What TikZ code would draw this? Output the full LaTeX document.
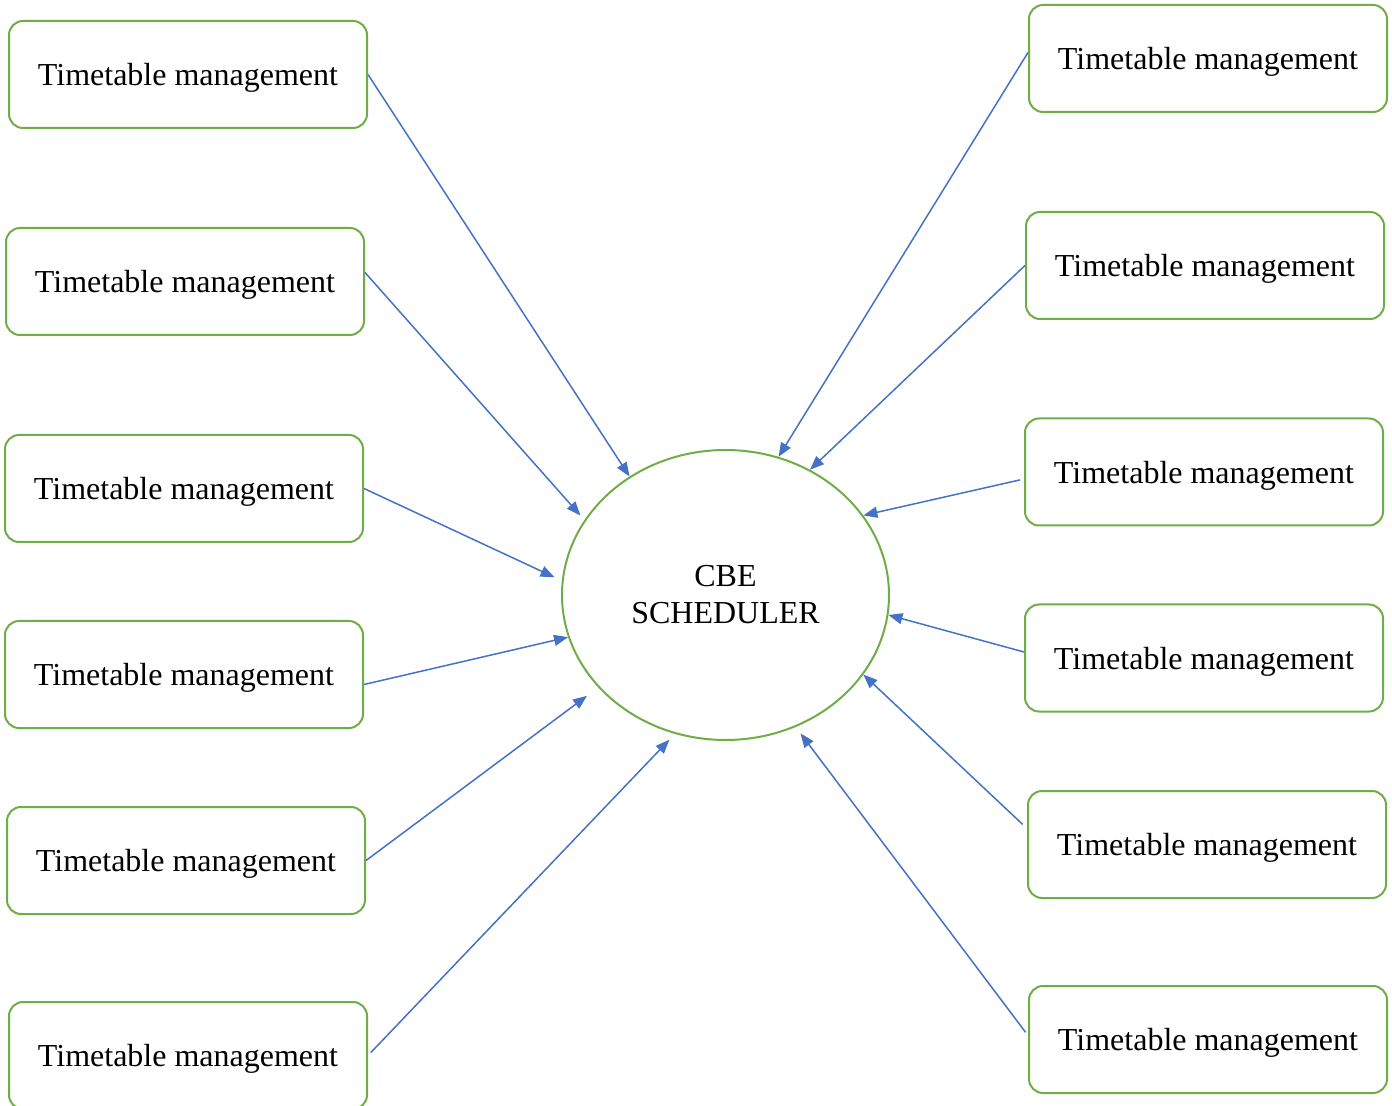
\documentclass[tikz,border=0pt]{standalone}
\usepackage{fontspec}
\setmainfont{Liberation Serif}
\usetikzlibrary{arrows.meta,shapes.geometric}
\definecolor{boxgreen}{HTML}{70AD47}
\definecolor{arrowblue}{HTML}{4472C4}

\begin{document}
\begin{tikzpicture}[
    x=0.5pt,y=-0.5pt,
    box/.style={draw=boxgreen,line width=1pt,rounded corners=7pt,fill=white,minimum width=179pt,minimum height=53.5pt,inner sep=0pt,text depth=0pt,font=\fontsize{16}{18.5}\selectfont},
    hub/.style={ellipse,draw=boxgreen,line width=1pt,minimum width=163.5pt,minimum height=145pt,inner sep=0pt,align=center,font=\fontsize{16}{18.5}\selectfont},
    arrow/.style={-{Triangle[length=7pt,width=5.5pt]},line width=0.75pt,draw=arrowblue}
  ]
    \useasboundingbox (0,0) rectangle (1392,1106);
    \node[hub] (sched) at (725.5,595) {CBE\\SCHEDULER};
    % left column
    \node[box] (left1) at (188,74.5) {Timetable management};
    \node[box] (left2) at (185,281.5) {Timetable management};
    \node[box] (left3) at (184,488.5) {Timetable management};
    \node[box] (left4) at (184,674.5) {Timetable management};
    \node[box] (left5) at (186,860.5) {Timetable management};
    \node[box] (left6) at (188,1055.5) {Timetable management};
    % right column
    \node[box] (right1) at (1208,58.5) {Timetable management};
    \node[box] (right2) at (1205,265.5) {Timetable management};
    \node[box] (right3) at (1204,472) {Timetable management};
    \node[box] (right4) at (1204,658) {Timetable management};
    \node[box] (right5) at (1207,844.5) {Timetable management};
    \node[box] (right6) at (1208,1039.5) {Timetable management};
    \draw[arrow] (left1.east) -- (sched.129);
    \draw[arrow,shorten >=3pt] ([yshift=4.5pt]left2.east) -- (sched.152);
    \draw[arrow,shorten >=4pt] (left3.east) -- (sched.175);
    \draw[arrow] ([yshift=-5pt]left4.east) -- (sched.195);
    \draw[arrow,shorten >=7pt] (left5.east) -- (sched.216);
    \draw[arrow,shorten <=2pt,shorten >=4pt] (left6.east) -- (sched.250);
    \draw[arrow] ([yshift=3pt]right1.west) -- (sched.69);
    \draw[arrow] (right2.west) -- (sched.56);
    \draw[arrow,shorten <=2pt] ([yshift=-3.5pt]right3.west) -- (sched.30);
    \draw[arrow] ([yshift=3pt]right4.west) -- (sched.353);
    \draw[arrow,shorten <=3pt] ([yshift=8pt]right5.west) -- (sched.330);
    \draw[arrow,shorten <=2pt,shorten >=4pt] ([yshift=2pt]right6.west) -- (sched.298);
  \end{tikzpicture}
\end{document}
